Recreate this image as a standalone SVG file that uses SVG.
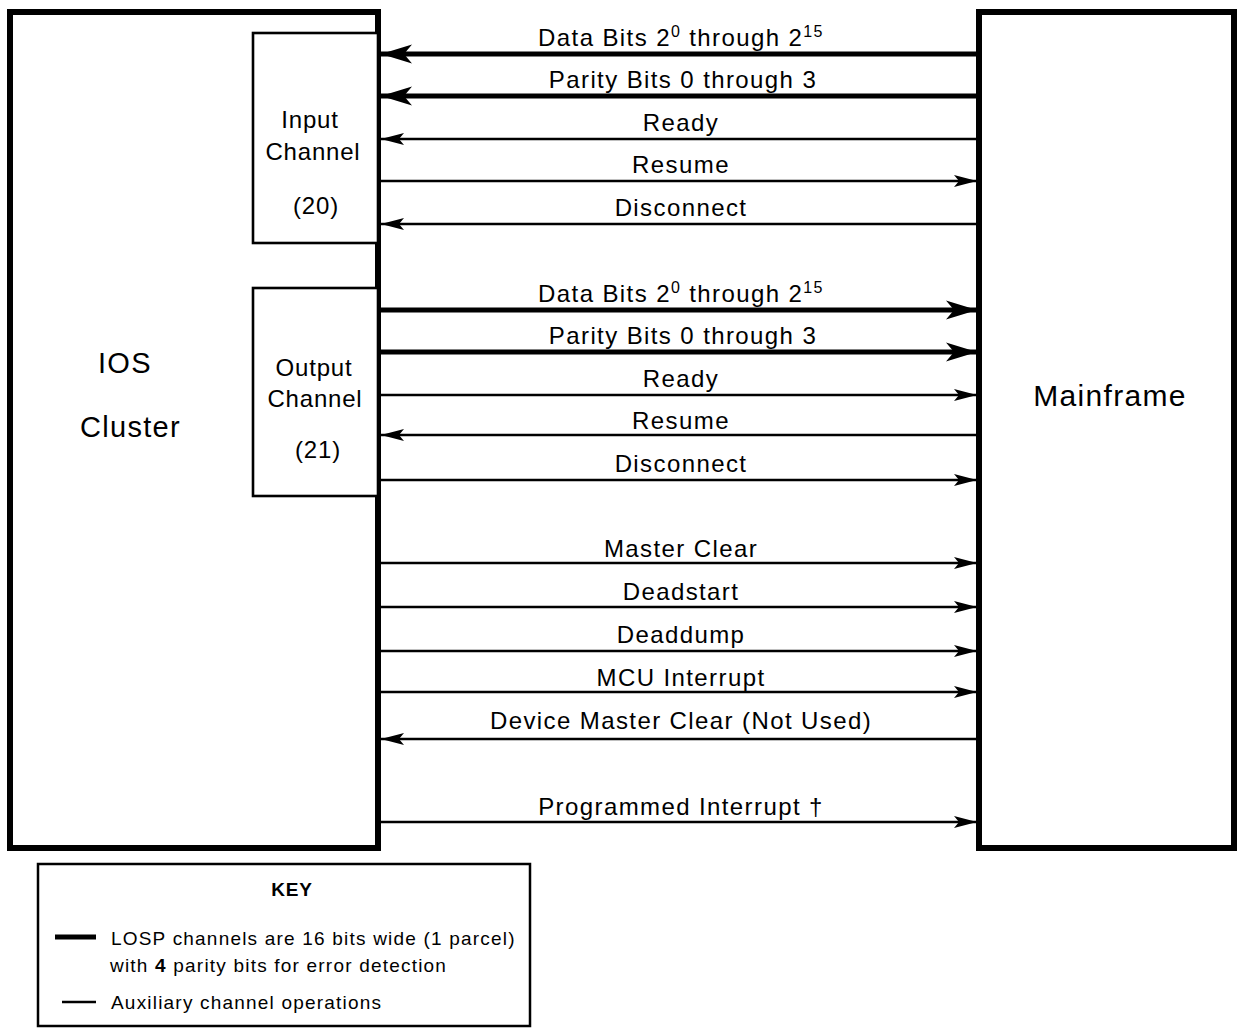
<svg xmlns="http://www.w3.org/2000/svg" width="1237" height="1028" viewBox="0 0 1237 1028">
<style>
  text { font-family: "Liberation Sans", Arial, Helvetica, sans-serif; fill: #000; }
  .box { fill: #fff; stroke: #000; stroke-width: 6; }
  .sub { fill: #fff; stroke: #000; stroke-width: 2.6; }
  .big { font-size: 29px; letter-spacing: 1.3px; }
  .ch { font-size: 24px; letter-spacing: 0.8px; text-anchor: middle; }
  .lbl { font-size: 24px; letter-spacing: 1.4px; text-anchor: middle; }
  .thick { stroke: #000; stroke-width: 5; fill: none; marker-end: url(#ahThick); }
  .thin { stroke: #000; stroke-width: 2.6; fill: none; marker-end: url(#ahThin); }
  .keytxt { font-size: 19px; letter-spacing: 1.2px; }
</style>
<defs>
  <marker id="ahThick" markerUnits="userSpaceOnUse" markerWidth="34" markerHeight="22" refX="32" refY="11" orient="auto">
    <path d="M32,11 L1,1.5 L9,11 L1,20.5 Z" fill="#000"/>
  </marker>
  <marker id="ahThin" markerUnits="userSpaceOnUse" markerWidth="26" markerHeight="16" refX="24" refY="8" orient="auto">
    <path d="M24,8 L1,2 L6,8 L1,14 Z" fill="#000"/>
  </marker>
</defs>
<rect width="1237" height="1028" fill="#fff"/>

<g id="ios-cluster">
  <rect class="box" x="10" y="12" width="368" height="836"/>
  <text class="big" x="98" y="373">IOS</text>
  <text class="big" x="80" y="437">Cluster</text>
</g>

<g id="input-channel">
  <rect class="sub" x="253" y="33" width="125" height="210"/>
  <text class="ch" x="310" y="128">Input</text>
  <text class="ch" x="313" y="160">Channel</text>
  <text class="ch" x="316" y="214">(20)</text>
</g>

<g id="output-channel">
  <rect class="sub" x="253" y="288" width="125" height="208"/>
  <text class="ch" x="314" y="376">Output</text>
  <text class="ch" x="315" y="407">Channel</text>
  <text class="ch" x="318" y="458">(21)</text>
</g>

<g id="mainframe">
  <rect class="box" x="979" y="12" width="255" height="836"/>
  <text class="big" x="1110" y="406" style="text-anchor:middle;font-size:30px">Mainframe</text>
</g>

<g id="connectors">
  <g><line class="thick" x1="979" y1="54" x2="381" y2="54"/>
    <text class="lbl" x="681" y="46">Data Bits 2<tspan font-size="16" dy="-9">0</tspan><tspan dy="9"> through 2</tspan><tspan font-size="16" dy="-9">15</tspan></text></g>
  <g><line class="thick" x1="979" y1="96" x2="381" y2="96"/>
    <text class="lbl" x="683" y="88">Parity Bits 0 through 3</text></g>
  <g><line class="thin" x1="979" y1="139" x2="381" y2="139"/>
    <text class="lbl" x="681" y="131">Ready</text></g>
  <g><line class="thin" x1="378" y1="181" x2="977" y2="181"/>
    <text class="lbl" x="681" y="173">Resume</text></g>
  <g><line class="thin" x1="979" y1="224" x2="381" y2="224"/>
    <text class="lbl" x="681" y="216">Disconnect</text></g>

  <g><line class="thick" x1="378" y1="310" x2="977" y2="310"/>
    <text class="lbl" x="681" y="302">Data Bits 2<tspan font-size="16" dy="-9">0</tspan><tspan dy="9"> through 2</tspan><tspan font-size="16" dy="-9">15</tspan></text></g>
  <g><line class="thick" x1="378" y1="352" x2="977" y2="352"/>
    <text class="lbl" x="683" y="344">Parity Bits 0 through 3</text></g>
  <g><line class="thin" x1="378" y1="395" x2="977" y2="395"/>
    <text class="lbl" x="681" y="387">Ready</text></g>
  <g><line class="thin" x1="979" y1="435" x2="381" y2="435"/>
    <text class="lbl" x="681" y="429">Resume</text></g>
  <g><line class="thin" x1="378" y1="480" x2="977" y2="480"/>
    <text class="lbl" x="681" y="472">Disconnect</text></g>

  <g><line class="thin" x1="378" y1="563" x2="977" y2="563"/>
    <text class="lbl" x="681" y="557">Master Clear</text></g>
  <g><line class="thin" x1="378" y1="607" x2="977" y2="607"/>
    <text class="lbl" x="681" y="600">Deadstart</text></g>
  <g><line class="thin" x1="378" y1="651" x2="977" y2="651"/>
    <text class="lbl" x="681" y="643">Deaddump</text></g>
  <g><line class="thin" x1="378" y1="692" x2="977" y2="692"/>
    <text class="lbl" x="681" y="686">MCU Interrupt</text></g>
  <g><line class="thin" x1="979" y1="739" x2="381" y2="739"/>
    <text class="lbl" x="681" y="729">Device Master Clear (Not Used)</text></g>
  <g><line class="thin" x1="378" y1="822" x2="977" y2="822"/>
    <text class="lbl" x="681" y="815">Programmed Interrupt †</text></g>
</g>

<g id="key">
  <rect x="38" y="864" width="492" height="162" fill="#fff" stroke="#000" stroke-width="2.5"/>
  <text x="292" y="896" style="font-size:19px;font-weight:bold;text-anchor:middle;letter-spacing:0.8px">KEY</text>
  <line x1="55" y1="937" x2="96" y2="937" stroke="#000" stroke-width="5"/>
  <text class="keytxt" x="111" y="945">LOSP channels are 16 bits wide (1 parcel)</text>
  <text class="keytxt" x="110" y="972">with <tspan font-weight="bold">4</tspan> parity bits for error detection</text>
  <line x1="62" y1="1002" x2="96" y2="1002" stroke="#000" stroke-width="2.5"/>
  <text class="keytxt" x="111" y="1009">Auxiliary channel operations</text>
</g>
</svg>
